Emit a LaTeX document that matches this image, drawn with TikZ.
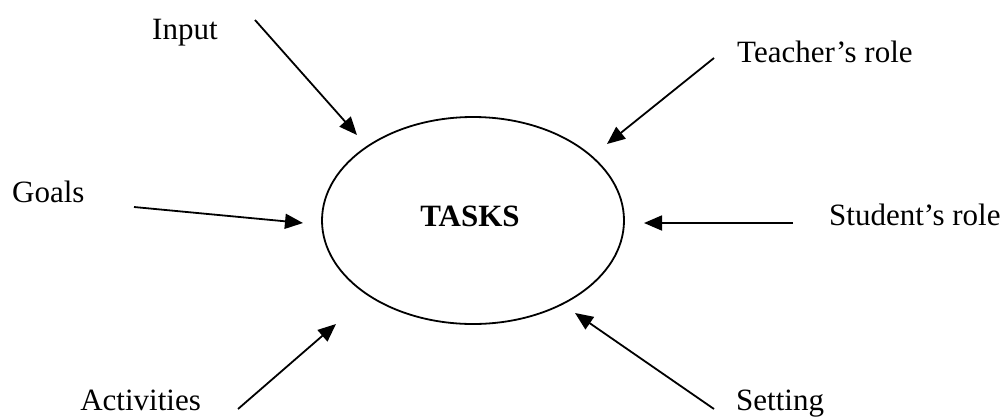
\documentclass[tikz,border=0pt]{standalone}
\usepackage{fontspec}
\setmainfont{Liberation Serif}
\usetikzlibrary{arrows.meta,shapes.geometric}
\tikzset{
  lbl/.style={inner sep=0pt, font=\fontsize{31}{37}\selectfont},
  arr/.style={line width=1.8pt, -{Triangle[length=18pt,width=15pt]}},
  tasksbox/.style={draw, ellipse, line width=1.8pt, inner sep=0pt, minimum width=302pt, minimum height=207pt}
}
\begin{document}
\begin{tikzpicture}[x=1pt,y=-1pt]
\useasboundingbox (0,0) rectangle (1004,416);
\node[tasksbox] (tasks) at (473,220.5) {};
\node[lbl, anchor=base, font=\fontsize{31}{37}\selectfont\bfseries] (tasklbl) at (470,226) {TASKS};
\node[lbl, anchor=base west] (input) at (152,39) {Input};
\node[lbl, anchor=base west] (teacher) at (737,62) {Teacher’s role};
\node[lbl, anchor=base west] (goals) at (12,202) {Goals};
\node[lbl, anchor=base west] (student) at (829,225) {Student’s role};
\node[lbl, anchor=base east] (activities) at (201,410) {Activities};
\node[lbl, anchor=base west] (setting) at (736,410) {Setting};
\coordinate (inS) at (255,20);   \coordinate (inT) at (357,135);
\coordinate (teS) at (714,58);   \coordinate (teT) at (607,144);
\coordinate (goS) at (134,207);  \coordinate (goT) at (303,223);
\coordinate (stS) at (793,223);  \coordinate (stT) at (644,223);
\coordinate (acS) at (238,409);  \coordinate (acT) at (336,324);
\coordinate (seS) at (714,409);  \coordinate (seT) at (575,313);
\draw[arr] (inS) -- (inT);
\draw[arr] (teS) -- (teT);
\draw[arr] (goS) -- (goT);
\draw[arr] (stS) -- (stT);
\draw[arr] (acS) -- (acT);
\draw[arr] (seS) -- (seT);
\end{tikzpicture}
\end{document}
